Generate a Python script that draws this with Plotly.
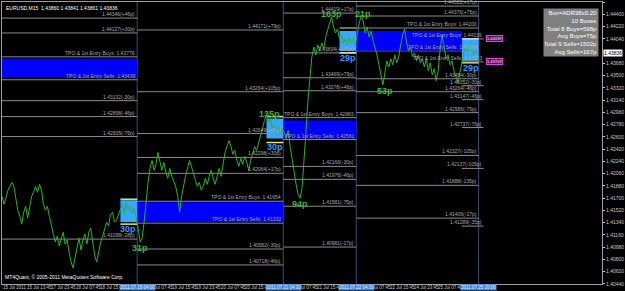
import plotly.graph_objects as go

# ---------------- data ----------------
# EURUSD M15 close prices (one value every 2 bars of the window)
close = [
    1.41728, 1.41611, 1.41698, 1.41815, 1.41874, 1.41932, 1.41874, 1.41669, 1.41523, 1.41435,
    1.41318, 1.41493, 1.41581, 1.41406, 1.41552, 1.41728, 1.41786, 1.41874, 1.41786, 1.41903,
    1.41815, 1.41611, 1.41523, 1.41581, 1.41435, 1.41289, 1.41172, 1.41054, 1.41142, 1.40996,
    1.41113, 1.41201, 1.41025, 1.41084, 1.40908, 1.40762, 1.40674, 1.40850, 1.40967, 1.41113,
    1.40937, 1.41084, 1.41172, 1.41025, 1.41201, 1.41259, 1.41025, 1.40850, 1.40762, 1.40937,
    1.41054, 1.41142, 1.41230, 1.41347, 1.41289, 1.41464, 1.41493, 1.41347, 1.41376, 1.41464,
    1.41523, 1.41611, 1.41464, 1.41640, 1.41523, 1.41581, 1.41464, 1.41552, 1.41406, 1.41259,
    1.41054, 1.41113, 1.41347, 1.41669, 1.41932,
    1.42137, 1.42254, 1.42108, 1.42196, 1.42371, 1.42254, 1.42108, 1.42225, 1.42079, 1.41991,
    1.42137, 1.42020, 1.41932, 1.41874, 1.41728, 1.41493, 1.41728, 1.41903, 1.42020, 1.42137,
    1.42254, 1.42166, 1.42049, 1.41962, 1.41874, 1.41932, 1.41815, 1.41874, 1.41991, 1.41903,
    1.42020, 1.42108, 1.41991, 1.41903, 1.42020, 1.42137, 1.42020, 1.42225, 1.42371, 1.42459,
    1.42547, 1.42459, 1.42342, 1.42400, 1.42254, 1.42166, 1.42283, 1.42196, 1.42313, 1.42225,
    1.42108, 1.42254, 1.42371, 1.42459, 1.42400, 1.42517, 1.42605, 1.42722, 1.42839, 1.42927,
    1.42810, 1.42869, 1.42722, 1.42781, 1.42664, 1.42752, 1.42635, 1.42722,
    1.42664, 1.42576, 1.42693, 1.42459, 1.42254, 1.42079, 1.41903, 1.41757, 1.41698, 1.41845,
    1.42196, 1.42664, 1.43132, 1.43483, 1.43776, 1.43922, 1.43805, 1.43951, 1.43864, 1.43981,
    1.43893, 1.44068, 1.44185, 1.44273, 1.44361, 1.44215, 1.44127, 1.44185, 1.44039, 1.44098,
    1.43981, 1.44039, 1.43951, 1.44068, 1.43981, 1.44039, 1.43951,
    1.44127, 1.44273, 1.44390, 1.44302, 1.44127, 1.44215, 1.44068, 1.44156, 1.44010, 1.43922,
    1.43805, 1.43659, 1.43512, 1.43366, 1.43542, 1.43717, 1.43629, 1.43747, 1.43659, 1.43805,
    1.43688, 1.43776, 1.43951, 1.44098, 1.44185, 1.43981, 1.43864, 1.43922, 1.43776, 1.43834,
    1.43717, 1.43805, 1.43688, 1.43747, 1.43629, 1.43747, 1.43571, 1.43688, 1.43512, 1.43600,
    1.43425, 1.43571, 1.43893, 1.44098, 1.43922, 1.43747, 1.43805, 1.43659, 1.43717, 1.43571,
    1.43483, 1.43395, 1.43542, 1.43717, 1.43834, 1.43922, 1.43864, 1.43951, 1.43893, 1.43805,
    1.43864, 1.43836,
]
bars = [2 * i for i in range(len(close))]

# session separators (bar index) and their highlighted time labels
sep_bars = [137, 285, 359, 483]
sep_labels = ["2011.07.19 04:00", "2011.07.21 04:30", "2011.07.22 04:30", "2011.07.25 20:00"]

# date tick labels on the time axis (the ones hidden under the separator tags are left out)
date_bars = [0, 24.5, 49, 73.5, 98, 147, 171.5, 196, 220.5, 245, 294, 318.5,
             367.5, 392, 416.5, 441]
date_labels = ["15 Jul 2011", "15 Jul 13:45", "17 Jul 23:45", "18 Jul 07:45", "18 Jul 15:45",
               "19 Jul 07:45", "19 Jul 15:45", "19 Jul 23:45", "20 Jul 07:45",
               "20 Jul 15:45", "21 Jul 07:45", "21 Jul 15:45",
               "22 Jul 07:45", "22 Jul 15:45", "24 Jul 23:45", "25 Jul 07:45"]

# price axis ticks
price_ticks = [1.40440, 1.40620, 1.40800, 1.40980, 1.41160, 1.41340, 1.41520, 1.41700,
               1.41880, 1.42060, 1.42240, 1.42420, 1.42600, 1.42780, 1.42960, 1.43140,
               1.43320, 1.43500, 1.43680, 1.43860, 1.44040, 1.44220, 1.44400, 1.44580]
last_price = 1.43836

# projected entry zones (blue)
zone_x0 = [0, 137, 285, 359]
zone_x1 = [137, 285, 359, 466]
zone_top = [1.43747, 1.41640, 1.42839, 1.44156]
zone_bot = [1.43469, 1.41347, 1.42576, 1.43864]

# range boxes (light blue)
box_x0 = [120, 268, 342, 466]
box_x1 = [137, 285, 359, 483]
box_top = [1.41669, 1.42869, 1.44156, 1.44024]
box_bot = [1.41347, 1.42576, 1.43864, 1.43717]
box_hi_line = [1.41684, 1.42898, 1.44200, 1.44039]
box_lo_line = [1.41318, 1.42517, 1.43834, 1.43688]
box_hi_col = ["#e8e070", "#e8e070", "#a09850", "#f0f0f0"]
box_lo_col = ["#f0e870", "#f0e870", "#f0f0c0", "#e8d840"]
box_size = ["30p", "30p", "29p", "29p"]
box_size_bar = [128, 277, 351, 475]
box_size_price = [1.41245, 1.42444, 1.43761, 1.43615]

# swing labels
swing_text = ["31p", "135p", "94p", "163p", "21p", "53p"]
swing_bar = [140, 271, 302, 334, 366, 388]
swing_price = [1.40967, 1.42942, 1.41611, 1.44405, 1.44405, 1.43278]

# target / entry levels
lvl_x0 = [0, 0, 0, 0, 0, 0, 0, 0,
          137, 137, 137, 137, 137, 137, 137, 137, 137,
          285, 285, 285, 285, 285, 285, 285, 285, 285, 285,
          359, 359, 359, 359, 359, 359, 359, 359, 359, 359,
          466, 466, 466, 466, 466, 466, 466]
lvl_x1 = [137, 137, 137, 137, 137, 137, 137, 137,
          285, 285, 285, 285, 285, 285, 285, 285, 285,
          359, 359, 359, 359, 359, 359, 359, 359, 359, 359,
          483, 483, 483, 483, 483, 483, 483, 483, 483, 483,
          488, 488, 488, 488, 488, 488, 488]
lvl_price = [1.44346, 1.44127, 1.43776, 1.43439, 1.43132, 1.42898, 1.42605, 1.41098,
             1.44171, 1.43264, 1.42649, 1.42298, 1.42064, 1.41654, 1.41332, 1.40952, 1.40718,
             1.44419, 1.43834, 1.43469, 1.43278, 1.42883, 1.42561, 1.42166, 1.41976, 1.41581, 1.40981,
             1.44522, 1.44376, 1.44200, 1.43864, 1.43454, 1.43264, 1.42956, 1.42327, 1.41888, 1.41406,
             1.44039, 1.43703, 1.43352, 1.43147, 1.42737, 1.42137, 1.41289]
lvl_text = ["1.44346(+46p)", "1.44127(+30p)", "TPO & 1st Entry Buys: 1.43776",
            "TPO & 1st Entry Sells: 1.43439", "1.43132(-30p)", "1.42898(-46p)",
            "1.42605(-75p)", "1.41098(-28p)",
            "1.44171(+79p)", "1.43264(+105p)", "1.42649(+46p)", "1.42298(+30p)",
            "1.42064(+17p)", "TPO & 1st Entry Buys: 1.41654", "TPO & 1st Entry Sells: 1.41332",
            "1.40952(-30p)", "1.40718(-46p)",
            "1.44419(+17p)", "1.43834(+105p)", "1.43469(+79p)", "1.43278(+46p)",
            "TPO & 1st Entry Buys: 1.42883", "TPO & 1st Entry Sells: 1.42561",
            "1.42166(-30p)", "1.41976(-46p)", "1.41581(-75p)", "1.40981(-17p)",
            "1.44522(+17p)", "1.44376(+75p)", "TPO & 1st Entry Buys: 1.44200",
            "TPO & 1st Entry Sells: 1.43864", "1.43454(-30p)", "1.43264(-46p)",
            "1.42956(-75p)", "1.42327(-105p)", "1.41888(-135p)", "1.41406(-17p)",
            "TPO & 1st Entry Buys: 1.44039", "TPO & 1st Entry Sells: 1.43703",
            "1.43352(-30p)", "1.43147(-46p)", "1.42737(-75p)", "1.42137(-105p)", "1.41289(-35p)"]

# current box price tags
tag_price = [1.44039, 1.43703]

info_lines = ["Box=ADR38x0.20", "10 Boxes", "Total 8 Buys=598p", "Avg Buys=75p",
              "Total 9 Sells=1502p", "Avg Sells=167p"]

# ---------------- figure ----------------
FONT = "Liberation Sans, Arial, sans-serif"
shapes = []
annotations = []

for x0, x1, p in zip(lvl_x0, lvl_x1, lvl_price):
    shapes.append(dict(type="line", x0=x0, x1=x1, y0=p, y1=p, xref="x", yref="y",
                       line=dict(color="#8c8c8c", width=1), layer="below"))
for x0, x1, t, b in zip(zone_x0, zone_x1, zone_top, zone_bot):
    shapes.append(dict(type="rect", x0=x0, x1=x1, y0=b, y1=t, xref="x", yref="y",
                       fillcolor="#0000ff", line=dict(width=0), layer="below"))
for x0, x1, t, b in zip(box_x0, box_x1, box_top, box_bot):
    shapes.append(dict(type="rect", x0=x0, x1=x1, y0=b, y1=t, xref="x", yref="y",
                       fillcolor="#38a8ff", line=dict(width=0), layer="below"))
for x0, x1, h, l, hc, lc in zip(box_x0, box_x1, box_hi_line, box_lo_line, box_hi_col, box_lo_col):
    shapes.append(dict(type="line", x0=x0, x1=x1, y0=h, y1=h, xref="x", yref="y",
                       line=dict(color=hc, width=1.5), layer="below"))
    shapes.append(dict(type="line", x0=x0, x1=x1, y0=l, y1=l, xref="x", yref="y",
                       line=dict(color=lc, width=1.5), layer="below"))
for s in sep_bars:
    shapes.append(dict(type="line", x0=s, x1=s, y0=0, y1=1, xref="x", yref="paper",
                       line=dict(color="#3a4c80", width=1), layer="below"))

for x1, p, t in zip(lvl_x1, lvl_price, lvl_text):
    annotations.append(dict(x=x1, y=p, xref="x", yref="y", text=t, showarrow=False,
                            xanchor="right", yanchor="bottom", yshift=-1,
                            font=dict(family=FONT, size=5, color="#a8a8a8")))

for b, p, t in zip(swing_bar, swing_price, swing_text):
    annotations.append(dict(x=b, y=p, xref="x", yref="y", text="<b>%s</b>" % t, showarrow=False,
                            font=dict(family=FONT, size=9, color="#3cb43c")))
for b, p, t in zip(box_size_bar, box_size_price, box_size):
    annotations.append(dict(x=b, y=p, xref="x", yref="y", text="<b>%s</b>" % t, showarrow=False,
                            font=dict(family=FONT, size=9, color="#3c96ff")))

for p in tag_price:
    annotations.append(dict(x=490, y=p, xref="x", yref="y", text=f"{p:.5f}", showarrow=False,
                            xanchor="left", font=dict(family=FONT, size=4, color="#ffffff"),
                            bgcolor="#5a105a", bordercolor="#e040e0", borderwidth=1, borderpad=0))

for b, t in zip(date_bars, date_labels):
    annotations.append(dict(x=b, y=0, xref="x", yref="paper", text=t, showarrow=False,
                            xanchor="left", yanchor="top", yshift=0, borderpad=0,
                            font=dict(family=FONT, size=4.5, color="#c8c8c8")))
for b, t in zip(sep_bars, sep_labels):
    annotations.append(dict(x=b, y=0, xref="x", yref="paper", text=t, showarrow=False,
                            xanchor="center", yanchor="top", yshift=0, bgcolor="#3a86e0",
                            borderpad=0, font=dict(family=FONT, size=4.5, color="#e8f0ff")))

annotations.append(dict(x=1, y=last_price, xref="paper", yref="y", text=f"{last_price:.5f}",
                        showarrow=False, xanchor="left", xshift=1, bgcolor="#ffffff", borderpad=0,
                        font=dict(family=FONT, size=5, color="#000000")))

annotations.append(dict(x=0.995, y=0.979, xref="paper", yref="paper",
                        text="<br>".join(info_lines), showarrow=False, align="right",
                        xanchor="right", yanchor="top", bgcolor="#808080", width=52,
                        borderpad=1, font=dict(family=FONT, size=6, color="#ffffff")))

annotations.append(dict(x=0.003, y=0.996, xref="paper", yref="paper",
                        text="EURUSD,M15  1.43860 1.43841 1.43861 1.43836", showarrow=False,
                        xanchor="left", yanchor="top",
                        font=dict(family=FONT, size=5, color="#ffffff")))
annotations.append(dict(x=0.002, y=0.006, xref="paper", yref="paper",
                        text="MT4Quant, © 2005-2011 MetaQuotes Software Corp.", showarrow=False,
                        xanchor="left", yanchor="bottom",
                        font=dict(family=FONT, size=5, color="#ffffff")))

# the live-price tag takes the place of the tick label it covers
tick_text = ["" if abs(v - last_price) < 0.0005 else f"{v:.5f}" for v in price_ticks]

fig = go.Figure()
fig.add_trace(go.Scatter(x=bars, y=close, mode="lines",
                         line=dict(color="#2fb02f", width=1), hoverinfo="skip"))

fig.update_layout(
    width=625, height=291, autosize=False,
    margin=dict(l=2, r=15, t=1, b=7),
    paper_bgcolor="#000000", plot_bgcolor="#000000",
    showlegend=False,
    shapes=shapes, annotations=annotations,
    xaxis=dict(range=[0, 608], showgrid=False, zeroline=False, showticklabels=False,
               showline=True, linecolor="#a0a0a0", linewidth=1, mirror=True, ticks=""),
    yaxis=dict(range=[1.40438, 1.44582], side="right", showgrid=False, zeroline=False,
               tickvals=price_ticks, ticktext=tick_text,
               tickfont=dict(family=FONT, size=5, color="#c8c8c8"),
               ticks="outside", ticklen=2, tickcolor="#c8c8c8",
               showline=True, linecolor="#a0a0a0", linewidth=1, mirror=True),
)

fig.write_html("out.html")
